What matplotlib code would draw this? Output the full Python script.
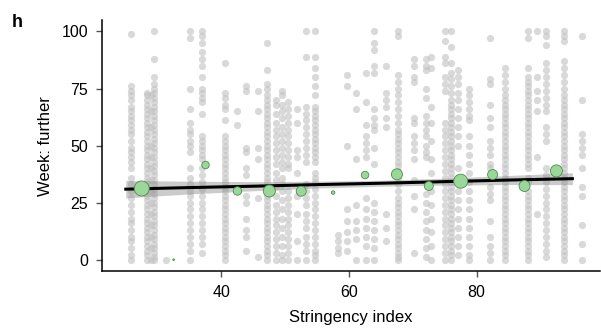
import matplotlib
matplotlib.use("Agg")
import matplotlib.pyplot as plt
import numpy as np

plt.rcParams['font.family'] = ['Liberation Sans', 'DejaVu Sans']

# ---- gray raw observations: (stringency x, list of y values) ----
raw_columns = [
    (25.8, [99, 76, 74, 72, 70, 67, 65, 63, 61, 59, 57, 55, 52, 49, 47, 45, 43, 40, 36, 33, 30, 27, 24, 21, 18, 16, 13, 10, 8, 5, 2, 0]),
    (28.3, [73, 72, 70, 68, 66, 64, 62, 60, 58, 56, 54, 52, 50, 48, 46, 44, 42, 40, 38, 36, 34, 32, 30, 28, 26, 24, 22, 20, 18, 16, 14, 12, 10, 8, 6, 4, 2, 0]),
    (28.9, [72, 65, 58, 50, 45, 40, 35, 30, 25, 20, 15, 10, 5, 0]),
    (29.4, [100, 88, 80, 77, 75, 73, 71, 69, 67, 65, 63, 61, 59, 57, 55, 53, 51, 49, 47, 45, 43, 41, 39, 37, 35, 33, 31, 29, 27, 25, 23, 21, 19, 17, 15, 13, 11, 9, 7, 5, 3, 1, 0]),
    (31.3, [0]),
    (35.1, [100, 97, 75, 66, 60, 57, 55, 52, 50, 47, 40, 36, 33, 30, 28, 25, 22, 19, 16, 13, 10, 7, 4, 0]),
    (36.9, [100, 98, 95, 91, 88, 85, 80, 75, 73, 71, 69, 64, 54, 52, 50, 48, 46, 44, 40, 37, 34, 31, 28, 25, 22, 19, 16, 13, 10, 7, 3]),
    (40.6, [86, 73, 71, 68, 66, 61, 54, 52, 50, 48, 46, 44, 42, 40, 38, 36, 34, 32, 30, 28, 26, 24, 22, 20, 18, 16, 14, 12, 10, 8, 6, 4, 2, 0]),
    (42.5, [65, 59]),
    (43.9, [76, 74, 49, 47, 40, 37, 28, 25, 18, 13, 10, 4]),
    (45.8, [74, 65, 49, 44, 27, 1]),
    (47.2, [95, 83, 77, 75, 72, 70, 68, 66, 64, 62, 60, 58, 56, 54, 52, 50, 48, 46, 44, 42, 40, 38, 36, 34, 32, 30, 28, 26, 24, 22, 20, 18, 16, 14, 12, 10, 8, 6, 4, 2, 0]),
    (48.6, [70, 68, 64, 60, 57, 54, 51, 48, 45, 42, 38, 35, 32, 28, 24, 21, 18, 15, 12, 9, 6, 3, 0]),
    (49.5, [74, 72, 68, 65, 62, 58, 55, 52, 49, 46, 43, 40, 36, 33, 30, 26, 22, 18, 14, 10, 6, 2, 0]),
    (50.5, [69, 66, 63, 60, 57, 54, 51, 48, 45, 42, 40, 30, 27, 24, 21, 18, 15, 12, 9, 6, 3, 0]),
    (51.9, [66, 60, 48, 45, 38, 28, 20, 8, 0]),
    (53.2, [100, 89, 67, 64, 61, 58, 55, 52, 49, 46, 43, 33, 30, 27, 24, 20, 17, 14, 10, 7, 4, 0]),
    (54.6, [100, 89, 84, 80, 76, 72, 67, 65, 63, 61, 59, 57, 55, 53, 51, 49, 47, 45, 43, 38, 36, 34, 31, 28, 25, 22, 19, 16, 13, 10, 7, 4, 2, 0]),
    (58.3, [11, 8, 5, 3]),
    (59.6, [81, 76, 50, 22, 17, 12, 8, 4]),
    (61.1, [73, 66, 44, 24, 17, 13, 9, 0]),
    (62.6, [82, 69, 59, 54, 51, 48, 45, 27, 22, 18, 14, 10, 6, 0]),
    (63.9, [100, 95, 92, 85, 82, 66, 62, 59, 57, 49, 42, 25, 21, 17, 13, 9, 5, 0]),
    (65.8, [85, 73, 70, 67, 62, 58, 20, 14, 8]),
    (67.6, [100, 98, 81, 78, 75, 72, 69, 66, 63, 60, 57, 55, 53, 51, 49, 47, 45, 43, 41, 39, 36, 33, 30, 27, 25, 23, 21, 19, 17, 15, 13, 11, 9, 7, 5, 3, 1, 0]),
    (70.1, [88, 85, 80, 78, 62, 60, 54, 51, 48, 44, 35, 28, 22, 3]),
    (72.0, [88, 85, 83, 75, 71, 63, 60, 57, 54, 50, 47, 45, 29, 25, 21, 17, 13, 9, 5, 1]),
    (72.8, [89, 84, 67, 60, 52, 44, 38, 30, 24, 18, 12, 6, 0]),
    (75.1, [100, 96, 89, 86, 80, 77, 74, 60, 57, 54, 51, 48, 45, 42, 39, 36, 33, 30, 27, 24, 21, 18, 15, 12, 9, 6, 3, 0]),
    (76.0, [100, 93, 86, 82, 79, 76, 73, 70, 68, 66, 64, 62, 60, 58, 56, 54, 52, 50, 48, 46, 44, 42, 40, 38, 36, 34, 32, 30, 28, 26, 24, 22, 20, 18, 16, 14, 12, 10, 8, 6, 4, 2, 0]),
    (77.0, [83, 80, 77, 73, 70, 66, 62, 58, 54, 50, 40, 36, 30, 26, 22, 18, 14, 10, 6, 2]),
    (78.8, [75, 72, 69, 66, 63, 61, 54, 50, 46, 42, 38, 34, 30, 26, 22, 18, 14, 10, 6, 2, 0]),
    (82.1, [97, 79, 77, 68, 62, 58, 52, 49, 46, 42, 40, 32, 29, 26, 17, 10, 6, 3, 0]),
    (84.4, [84, 81, 78, 75, 72, 70, 68, 66, 64, 62, 60, 58, 56, 54, 52, 50, 48, 46, 44, 42, 40, 38, 36, 34, 32, 30, 28, 26, 24, 22, 20, 18, 16, 14, 12, 10, 8, 6, 4, 2, 0]),
    (88.1, [100, 97, 84, 80, 78, 76, 74, 72, 70, 68, 66, 64, 62, 60, 58, 56, 54, 52, 50, 48, 46, 44, 42, 40, 36, 34, 30, 28, 26, 24, 22, 20, 18, 16, 14, 12, 10, 8, 6, 4, 2, 0]),
    (89.5, [100, 80, 74, 70, 65, 45, 20]),
    (90.8, [100, 98, 94, 86, 83, 80, 77, 74, 71, 68, 65, 58, 55, 52, 40, 37, 34, 31, 28, 25, 22, 19, 16, 13, 10, 7, 4, 1]),
    (93.7, [100, 98, 96, 87, 84, 81, 78, 75, 72, 70, 68, 66, 64, 62, 60, 58, 56, 54, 52, 50, 48, 46, 44, 42, 40, 38, 36, 34, 32, 30, 28, 26, 24, 22, 20, 18, 16, 14, 12, 10, 8, 6, 4, 2, 0]),
    (96.5, [98, 70, 55, 52, 49, 46, 40, 32, 28, 15, 7, 0]),
]

# ---- binned means (green) ----
bin_x = [27.5, 32.5, 37.5, 42.5, 47.5, 52.5, 57.5, 62.5, 67.5, 72.5, 77.5, 82.5, 87.5, 92.5]
bin_y = [31.2, 0.0, 41.5, 30.1, 30.1, 30.0, 29.4, 37.1, 37.4, 32.3, 34.4, 37.3, 32.3, 38.9]
bin_n = [117, 1.5, 29, 37, 75, 52, 6.4, 29, 63, 42, 102, 52, 63, 75]

# ---- regression fit and confidence band ----
fit_x = [25, 35, 45, 55, 65, 75, 85, 95]
fit_y = [30.9, 31.6, 32.2, 32.9, 33.5, 34.2, 34.9, 35.5]
fit_hw = [3.8, 2.8, 2.0, 1.5, 1.3, 1.5, 2.0, 2.6]

xs = np.concatenate([[x] * len(ys) for x, ys in raw_columns])
ys = np.concatenate([ys for x, ys in raw_columns])

fig = plt.figure(figsize=(6.01, 3.29), dpi=100)
ax = fig.add_axes([0.170, 0.176, 0.828, 0.763])

ax.scatter(xs, ys, s=27, color='#c2c2c2', alpha=0.62, linewidths=0, zorder=1)

fx = np.array(fit_x)
fy = np.array(fit_y)
fh = np.array(fit_hw)
ax.fill_between(fx, fy - fh, fy + fh, color='#8c8c8c', alpha=0.45, linewidth=0, zorder=2)
ax.plot(fx, fy, color='black', lw=2.2, zorder=3)

ax.scatter(bin_x, bin_y, s=bin_n, color='#9ad89a', edgecolors='#4f8a4f', linewidths=0.6, zorder=4)

ax.set_xlim(21.3, 99.3)
ax.set_ylim(-5, 105)
ax.set_xticks([40, 60, 80])
ax.set_yticks([0, 25, 50, 75, 100])
for s in ['top', 'right']:
    ax.spines[s].set_visible(False)
for s in ['left', 'bottom']:
    ax.spines[s].set_linewidth(1.1)
    ax.spines[s].set_color('black')
ax.tick_params(axis='both', direction='out', length=4.5, width=1, color='#555555',
               labelsize=11.5, labelcolor='black', pad=5.5)

ax.set_xlabel('Stringency index', fontsize=12, labelpad=7)
ax.set_ylabel('Week: further', fontsize=12, labelpad=6)

fig.text(0.02, 0.918, 'h', fontsize=13, fontweight='bold', ha='left', va='baseline')

fig.savefig('out.png', dpi=100)
